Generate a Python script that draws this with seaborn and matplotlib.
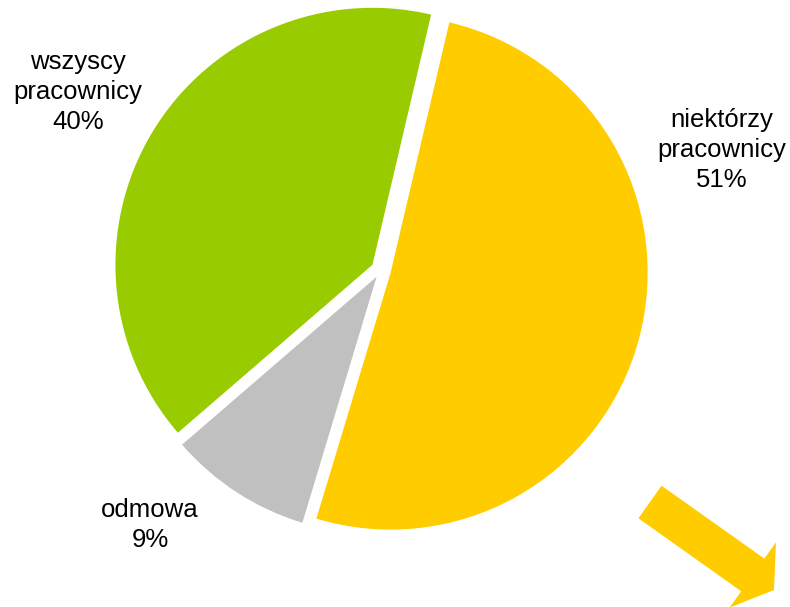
import matplotlib
matplotlib.use("Agg")
import matplotlib.pyplot as plt
from matplotlib.patches import FancyArrow
import seaborn as sns

# data
labels = ["niektórzy\npracownicy", "odmowa", "wszyscy\npracownicy"]
shares = [51, 9, 40]
colors = ["#FFCC00", "#C0C0C0", "#99CC00"]

sns.set_style("white")
plt.rcParams["font.family"] = ["Liberation Sans", "DejaVu Sans"]

fig = plt.figure(figsize=(7.9, 6.07), dpi=100)
ax = fig.add_axes([0, 0, 1, 1])

# explode is an absolute offset here (data units = pixels)
ax.pie(shares, colors=colors, startangle=76.8, counterclock=False,
       explode=[10, 8, 10], center=(381, 337), radius=257,
       frame=True, wedgeprops=dict(linewidth=0))
ax.set_xlim(0, 790)
ax.set_ylim(0, 607)
ax.axis("off")

label_pos = [(722, 457), (150, 82), (78, 515)]
for lab, val, (x, y) in zip(labels, shares, label_pos):
    ax.text(x, y, f"{lab}\n{val}%", ha="center", va="center",
            fontsize=18.5, linespacing=1.32, color="#000000")

# decorative arrow
ax.add_patch(FancyArrow(650, 105, 124, -88, width=40, head_width=80,
                        head_length=26, length_includes_head=True,
                        color="#FFCC00", linewidth=0, clip_on=False))

fig.savefig("out.png", dpi=100)
